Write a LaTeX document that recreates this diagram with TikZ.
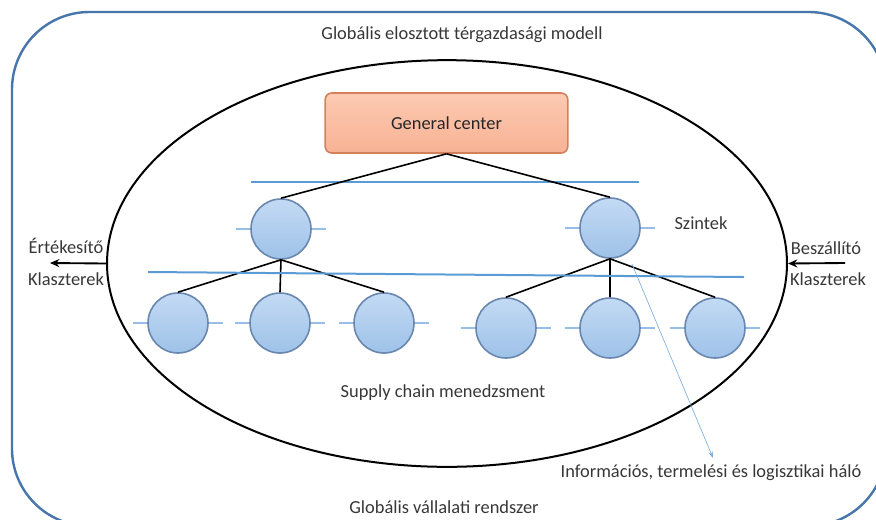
\documentclass[tikz,border=0pt]{standalone}
\usepackage{fontspec}
\setmainfont{Carlito}
\usetikzlibrary{shapes.geometric,arrows.meta}
\definecolor{outerblue}{RGB}{70,118,170}
\definecolor{lvlblue}{RGB}{91,155,213}
\definecolor{tickblue}{RGB}{150,190,230}
\definecolor{boxtop}{RGB}{252,202,178}
\definecolor{boxbot}{RGB}{248,178,148}
\definecolor{boxline}{RGB}{212,128,92}
\definecolor{balltop}{RGB}{195,218,244}
\definecolor{ballbot}{RGB}{158,194,232}
\definecolor{ballline}{RGB}{105,135,175}
\definecolor{txtgray}{RGB}{55,55,55}
\tikzset{
  outerbox/.style={draw=outerblue, line width=1.8pt, rounded corners=58pt},
  bigell/.style={ellipse, draw=black, line width=1.5pt, inner sep=0pt, minimum width=510pt, minimum height=305pt},
  gcbox/.style={draw=boxline, line width=1.2pt, rounded corners=5pt, top color=boxtop, bottom color=boxbot, minimum width=182pt, minimum height=45pt, inner sep=0pt, text=black!85},
  ball/.style={circle, draw=ballline, line width=1.2pt, top color=balltop, bottom color=ballbot, minimum size=45pt, inner sep=0pt},
  tickln/.style={draw=tickblue, line width=0.8pt},
  lvlline/.style={draw=lvlblue, line width=1.5pt},
  conn/.style={draw=black, line width=1.2pt},
  sidearrow/.style={draw=black, line width=1.4pt, -{Stealth[length=7pt,width=6pt]}},
  infoarrow/.style={draw=lvlblue!80, line width=0.5pt, -{Stealth[length=5pt,width=3.5pt]}},
  txt/.style={text=txtgray, inner sep=0pt}
}
\begin{document}
\begin{tikzpicture}[x=0.75pt,y=-0.75pt,font=\fontsize{13.8}{16}\selectfont]
\useasboundingbox (0,0) rectangle (876,519);
\clip (0,0) rectangle (876,519);
\draw[outerbox] (12,12) rectangle (886,526);
\node[bigell] (ell) at (447,263.5) {};
\node[gcbox] (gc) at (446.5,123) {General center};
% level lines
\draw[lvlline] (251,182) -- (639,182);
% tick lines
\foreach \cx/\cy in {281/229,610/228,178/323,280/323,384/323,506/328,610/328,715/328}
  \draw[tickln] (\cx-45,\cy) -- (\cx+45,\cy);
% circles
\node[ball] (a) at (281,229) {};
\node[ball] (b) at (610,228) {};
\node[ball] (a1) at (178,323) {};
\node[ball] (a2) at (280,323) {};
\node[ball] (a3) at (384,323) {};
\node[ball] (b1) at (506,328) {};
\node[ball] (b2) at (610,328) {};
\node[ball] (b3) at (715,328) {};
% connectors
\draw[conn] (gc.south) -- (a.north);
\draw[conn] (gc.south) -- (b.north);
\foreach \c in {a1,a2,a3} \draw[conn] (a.south) -- (\c.north);
\foreach \c in {b1,b2,b3} \draw[conn] (b.south) -- (\c.north);
\draw[lvlline] (148,272) -- (744,277);
% info arrow
\coordinate (hs) at (632,264);
\coordinate (he) at (713,458);
\draw[infoarrow] (hs) -- (he);
% side arrows
\coordinate (lt) at (50,263);
\coordinate (rs) at (845,263);
\draw[sidearrow] (ell.west) -- (lt);
\draw[sidearrow] (rs) -- (ell.east);
% texts
\node[txt] (title) at (462,35) {Globális elosztott térgazdasági modell};
\node[txt] (bottom) at (444,507) {Globális vállalati rendszer};
\node[txt] (scm) at (443,393) {Supply chain menedzsment};
\node[txt] (info) at (711,473) {Információs, termelési és logisztikai háló};
\node[txt] (szint) at (701,223) {Szintek};
\node[txt] (ert) at (66,246) {Értékesítő};
\node[txt] (klL) at (66,279) {Klaszterek};
\node[txt] (besz) at (826,248) {Beszállító};
\node[txt] (klR) at (828,279) {Klaszterek};
\end{tikzpicture}
\end{document}
